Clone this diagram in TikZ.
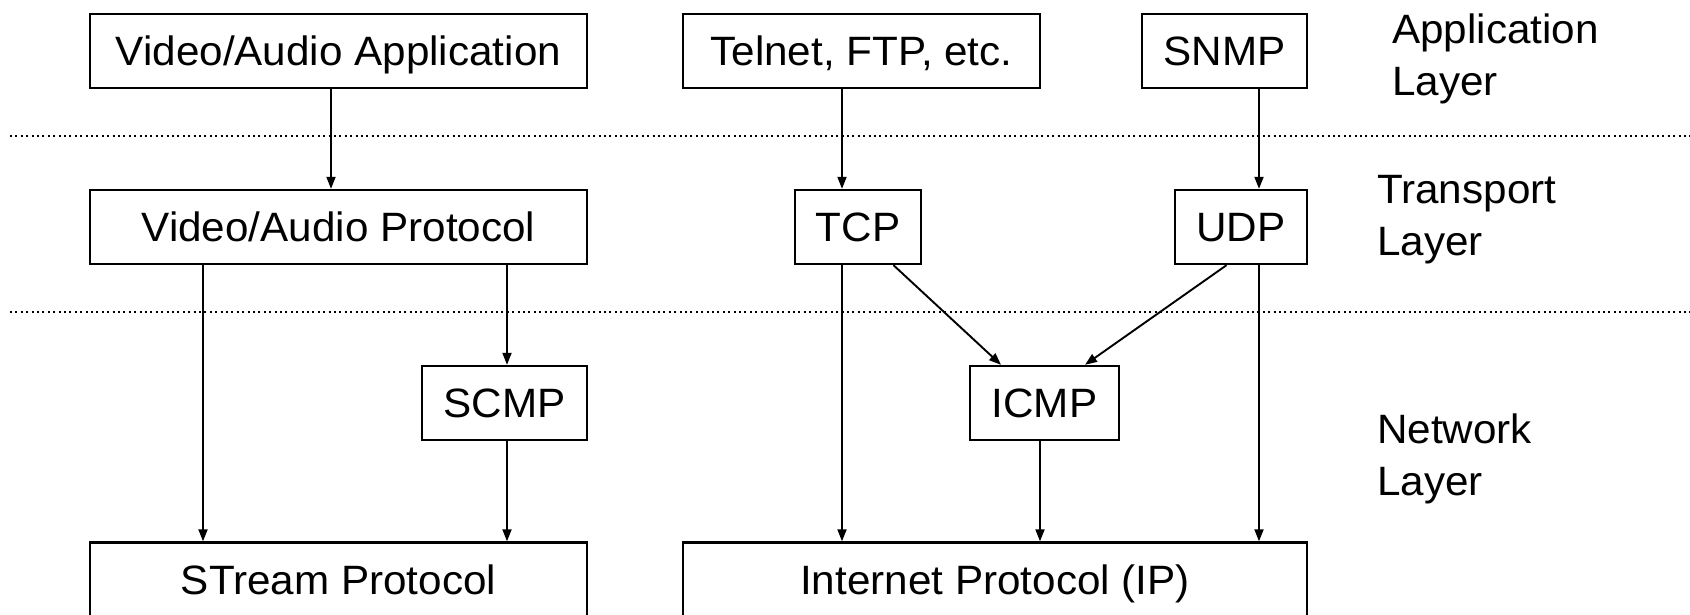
\documentclass[tikz,border=0pt]{standalone}
\usepackage{fontspec}
\setmainfont{Liberation Sans}[FakeStretch=1.03]
\usetikzlibrary{arrows.meta}
\begin{document}
\begin{tikzpicture}[x=1pt,y=1pt,
  box/.style={draw, line width=2.4pt, inner sep=0pt, minimum height=74pt,
    text height=29.3pt, text depth=0pt,
    font=\fontsize{41}{49}\selectfont},
  arr/.style={line width=1.9pt, -{Triangle[length=12pt,width=9pt]}},
  sep/.style={line width=2pt, dash pattern=on 2pt off 3.4pt},
  lbl/.style={anchor=base west, inner sep=0pt, align=left,
    font=\fontsize{41}{51.7}\selectfont}]
\clip (0,0) rectangle (1690,-614);
\fill[white] (0,0) rectangle (1690,-614);
% separators
\coordinate (s1a) at (10,-135.7);
\coordinate (s1b) at (1690,-135.7);
\coordinate (s2a) at (10,-311.7);
\coordinate (s2b) at (1690,-311.7);
\draw[sep] (s1a) -- (s1b);
\draw[sep] (s2a) -- (s2b);
% boxes
\node[box, minimum width=497pt] (vaa) at (338.5,-51) {Video/Audio Application};
\node[box, minimum width=357pt] (tel) at (861.5,-51) {Telnet, FTP, etc.};
\node[box, minimum width=165pt] (snmp) at (1224.5,-51) {SNMP};
\node[box, minimum width=497pt] (vap) at (338.5,-227) {Video/Audio Protocol};
\node[box, minimum width=126pt] (tcp) at (858,-227) {TCP};
\node[box, minimum width=132pt] (udp) at (1241,-227) {UDP};
\node[box, minimum width=165pt] (scmp) at (504.5,-403) {SCMP};
\node[box, minimum width=149pt] (icmp) at (1044.5,-403) {ICMP};
\node[box, minimum width=497pt] (st) at (338.5,-579.5) {STream Protocol};
\node[box, minimum width=624pt] (ip) at (995,-579.5) {Internet Protocol (IP)};
% layer labels
\node[lbl] (la) at (1392,-95) {Application\\Layer};
\node[lbl] (lt) at (1377,-255) {Transport\\Layer};
\node[lbl] (ln) at (1377,-495) {Network\\Layer};
% connectors
\draw[arr] (vaa.south -| 331,0) -- (vap.north -| 331,0);
\draw[arr] (tel.south -| 842,0) -- (tcp.north -| 842,0);
\draw[arr] (snmp.south -| 1259,0) -- (udp.north -| 1259,0);
\draw[arr] (vap.south -| 203,0) -- (st.north -| 203,0);
\draw[arr] (vap.south -| 507,0) -- (scmp.north -| 507,0);
\draw[arr] (scmp.south -| 507,0) -- (st.north -| 507,0);
\draw[arr] (tcp.south -| 842,0) -- (ip.north -| 842,0);
\draw[arr] (tcp.south -| 893.5,0) -- (icmp.north -| 1001,0);
\draw[arr] (udp.south -| 1226.5,0) -- (icmp.north -| 1085,0);
\draw[arr] (icmp.south -| 1040,0) -- (ip.north -| 1040,0);
\draw[arr] (udp.south -| 1259,0) -- (ip.north -| 1259,0);
\end{tikzpicture}
\end{document}
